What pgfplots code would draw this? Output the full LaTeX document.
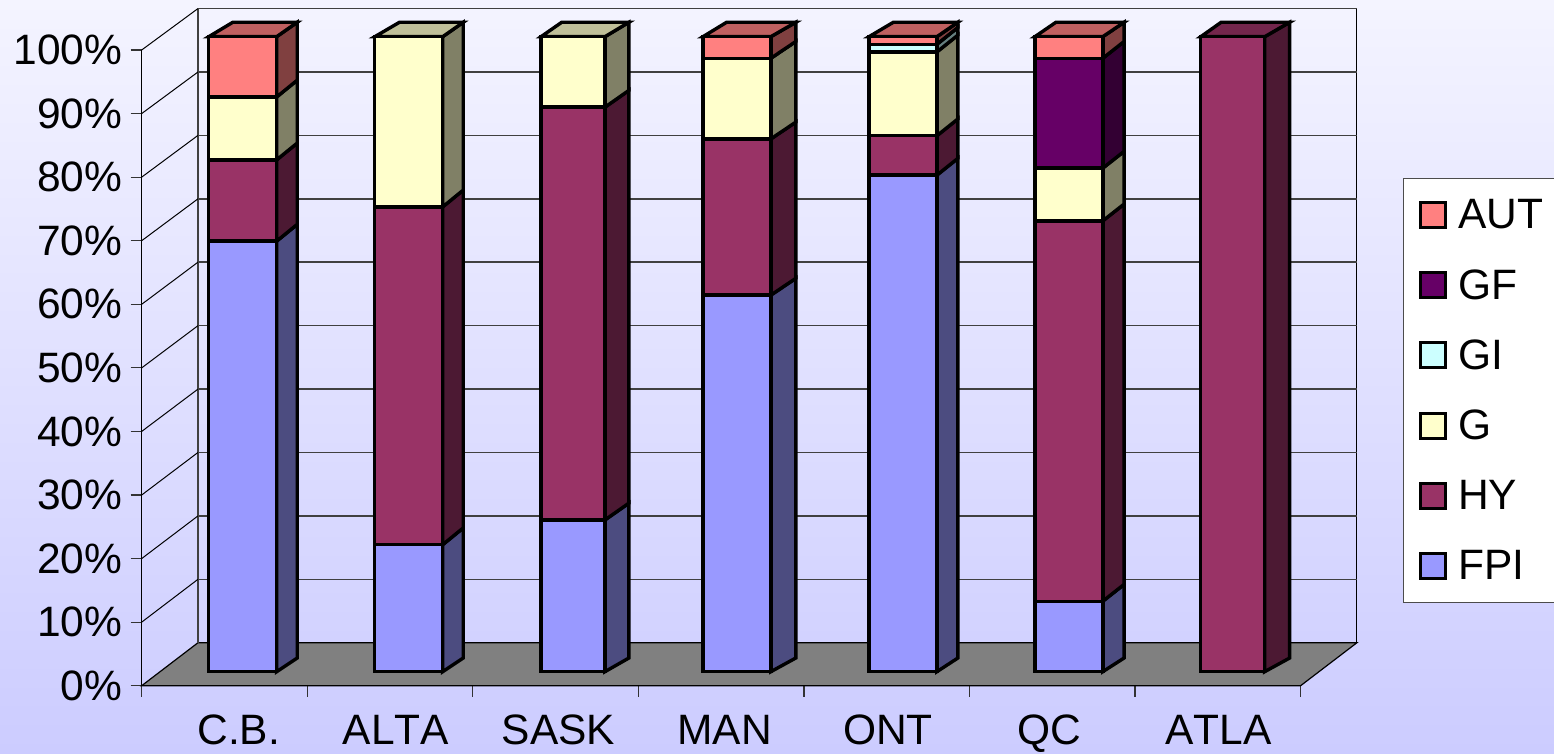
\documentclass[border=0pt]{standalone}
\usepackage{pgfplots}
\pgfplotsset{compat=1.18}
\usepackage{pgfplotstable}
\usepackage{fontspec}
\setmainfont[Kerning=Off]{Liberation Sans}

\definecolor{bgtop}{HTML}{F4F4FF}
\definecolor{bgbot}{HTML}{CCCCFF}
\definecolor{cFPI}{HTML}{9999FF}
\definecolor{cHY}{HTML}{993366}
\definecolor{cG}{HTML}{FFFFCC}
\definecolor{cGI}{HTML}{CCFFFF}
\definecolor{cGF}{HTML}{660066}
\definecolor{cAUT}{HTML}{FF8080}

\newcommand\chartfont{\fontsize{42.5}{50}\selectfont}

% share of each type per province, cumulated by the stack
\pgfplotstableread{
x     FPI  HY   G    GI  GF   AUT
0.610 67.8 12.8 9.9  0   0    9.5
1.613 20.0 53.2 26.8 0   0    0
3.595 59.3 24.6 12.7 0   0    3.4
4.598 78.2 6.2  13.2 1.2 0    1.2
5.600 11.1 59.9 8.3  0   17.3 3.4
}\widebars
\pgfplotstableread{
x     FPI  HY    G
2.605 23.9 65.0  11.1
6.590 0    100.0 0
}\narrowbars

\pgfplotsset{
  frontaxis/.style={
    scale only axis, width=1159pt, height=635pt,
    at={(141.7pt,81.3pt)}, anchor=south west,
    xmin=0, xmax=7, ymin=0, ymax=100,
    hide axis, clip=false,
  },
  seg/.style={
    fill=#1, draw=black, line width=3.4pt,
    legend image code/.code={
      \path[draw=none,fill=none] (0pt,0pt) -- (37.5pt,0pt);
      \draw[fill=#1,draw=black,line width=3pt] (0pt,-12.5pt) rectangle (25pt,12.5pt);
    },
  },
  face/.style={fill=#1, draw=black, line width=3.4pt},
  wall/.style={draw=black!75, line width=1.5pt},
  diag/.style={draw=black, line width=1pt},
}

% depth of a column: right and left back edge offsets, set per column
\newcommand\dXr{0.1244}
\newcommand\dXl{0.145}
\newcommand\setdepth[2]{\renewcommand\dXr{#1}\renewcommand\dXl{#2}}
% the rise of the side faces is 14.4 px at the top, 13.7 at the foot, 16.7 between
\newcommand\riseof[1]{((#1==0)?2.16:((#1==100)?2.27:2.65))}
% side of one stack segment: right edge of bar, bottom, top, colour
\newcommand\side[4]{%
  \pgfmathsetmacro\xb{#1+\dXr}%
  \pgfmathsetmacro\ya{#2+\riseof{#2}}%
  \pgfmathsetmacro\yb{#3+\riseof{#3}}%
  \edef\tmp{\noexpand\addplot[face=#4] coordinates {(#1,#2) (\xb,\ya) (\xb,\yb) (#1,#3)} --cycle;}\tmp
}
% top face: left edge, right edge, colour
\newcommand\topface[3]{%
  \pgfmathsetmacro\xa{#1+\dXl}%
  \pgfmathsetmacro\xb{#2+\dXr}%
  \edef\tmp{\noexpand\addplot[face=#3] coordinates {(#1,100) (\xa,102.27) (\xb,102.27) (#2,100)} --cycle;}\tmp
}
% one gridline: front height, height on the back wall
\newcommand\gridl[2]{%
  \addplot[diag] coordinates {(0,#1) (0.34,#2)};
  \addplot[wall] coordinates {(0.34,#2) (7.34,#2)};
}

\begin{document}
\begin{tikzpicture}[x=1pt,y=1pt]
\path[use as bounding box] (0,0) rectangle (1554,753);
\clip (0,0) rectangle (1554,753);
\shade[top color=bgtop, bottom color=bgbot] (0,0) rectangle (1554,753);

% frame: front edge axis, floor and walls
\begin{axis}[
  scale only axis, width=1159pt, height=635.7pt,
  at={(141.7pt,67.3pt)}, anchor=south west,
  xmin=0, xmax=7, ymin=0, ymax=100,
  axis x line=bottom, axis y line=left,
  axis line style={-, line width=1.2pt},
  clip=false,
  tick align=outside, major tick length=11pt,
  tick style={black!80, line width=1.2pt},
  xtick={0,1,2,3,4,5,6,7}, xticklabels={},
  extra x ticks={0.586,1.536,2.518,3.522,4.507,5.485,6.504},
  extra x tick labels={C.B.,ALTA,SASK,MAN,ONT,QC,ATLA},
  extra x tick style={major tick length=0pt, xticklabel style={yshift=-26pt}},
  ytick={0,10,20,30,40,50,60,70,80,90,100},
  yticklabels={0\%,10\%,20\%,30\%,40\%,50\%,60\%,70\%,80\%,90\%,100\%},
  ticklabel style={font=\chartfont},
  yticklabel style={xshift=-5pt},
]
\addplot[fill=black!50, draw=black, line width=1.2pt] coordinates {(0,0) (7,0) (7.34,6.76) (0.34,6.76)} --cycle;
\addplot[wall] coordinates {(0.34,6.76) (0.34,106.52)};
\addplot[diag] coordinates {(7.34,6.76) (7.34,106.52)};
\gridl{10}{16.74}
\gridl{20}{26.71}
\gridl{30}{36.69}
\gridl{40}{46.66}
\gridl{50}{56.64}
\gridl{60}{66.62}
\gridl{70}{76.59}
\gridl{80}{86.57}
\gridl{90}{96.54}
\gridl{100}{106.52}
\end{axis}

% side and top faces of the columns
\begin{axis}[frontaxis]
\setdepth{0.1244}{0.145}
\side{0.815}{0}{67.8}{cFPI!50!black}
\side{0.815}{67.8}{80.6}{cHY!50!black}
\side{0.815}{80.6}{90.5}{cG!50!black}
\side{0.815}{90.5}{100}{cAUT!50!black}
\topface{0.405}{0.815}{cAUT!75!black}
\setdepth{0.1244}{0.149}
\side{1.818}{0}{20}{cFPI!50!black}
\side{1.818}{20}{73.2}{cHY!50!black}
\side{1.818}{73.2}{100}{cG!50!black}
\topface{1.408}{1.818}{cG!75!black}
\setdepth{0.145}{0.125}
\side{2.798}{0}{23.9}{cFPI!50!black}
\side{2.798}{23.9}{88.9}{cHY!50!black}
\side{2.798}{88.9}{100}{cG!50!black}
\topface{2.412}{2.798}{cG!75!black}
\setdepth{0.151}{0.143}
\side{3.800}{0}{59.3}{cFPI!50!black}
\side{3.800}{59.3}{83.9}{cHY!50!black}
\side{3.800}{83.9}{96.6}{cG!50!black}
\side{3.800}{96.6}{100}{cAUT!50!black}
\topface{3.390}{3.800}{cAUT!75!black}
\setdepth{0.127}{0.147}
\side{4.803}{0}{78.2}{cFPI!50!black}
\side{4.803}{78.2}{84.4}{cHY!50!black}
\side{4.803}{84.4}{97.6}{cG!50!black}
\side{4.803}{97.6}{98.8}{cGI!50!black}
\side{4.803}{98.8}{100}{cAUT!50!black}
\topface{4.393}{4.803}{cAUT!75!black}
\setdepth{0.129}{0.127}
\side{5.805}{0}{11.1}{cFPI!50!black}
\side{5.805}{11.1}{71.0}{cHY!50!black}
\side{5.805}{71.0}{79.3}{cG!50!black}
\side{5.805}{79.3}{96.6}{cGF!50!black}
\side{5.805}{96.6}{100}{cAUT!50!black}
\topface{5.395}{5.805}{cAUT!75!black}
\setdepth{0.151}{0.123}
\side{6.783}{0}{100}{cHY!50!black}
\topface{6.397}{6.783}{cHY!75!black}
\end{axis}

% narrower fronts: SASK, ATLA
\begin{axis}[frontaxis, ybar stacked, bar width=64pt]
\addplot[seg=cFPI] table[x=x,y=FPI] {\narrowbars};
\addplot[seg=cHY] table[x=x,y=HY] {\narrowbars};
\addplot[seg=cG] table[x=x,y=G] {\narrowbars};
\end{axis}

% other fronts, with the legend
\begin{axis}[frontaxis, ybar stacked, bar width=68pt,
  reverse legend,
  legend style={
    at={(1.088,0.7775)}, anchor=north west,
    draw=black!70, line width=1.2pt, fill=white,
    font=\chartfont, inner xsep=16pt, inner ysep=21pt,
    row sep=39.2pt, legend cell align=left,
    nodes={inner xsep=0pt, inner ysep=0pt},
  },
]
\addplot[seg=cFPI] table[x=x,y=FPI] {\widebars};
\addplot[seg=cHY] table[x=x,y=HY] {\widebars};
\addplot[seg=cG] table[x=x,y=G] {\widebars};
\addplot[seg=cGI] table[x=x,y=GI] {\widebars};
\addplot[seg=cGF] table[x=x,y=GF] {\widebars};
\addplot[seg=cAUT] table[x=x,y=AUT] {\widebars};
\legend{FPI,HY,G,GI,GF,AUT}
\end{axis}
\end{tikzpicture}
\end{document}
